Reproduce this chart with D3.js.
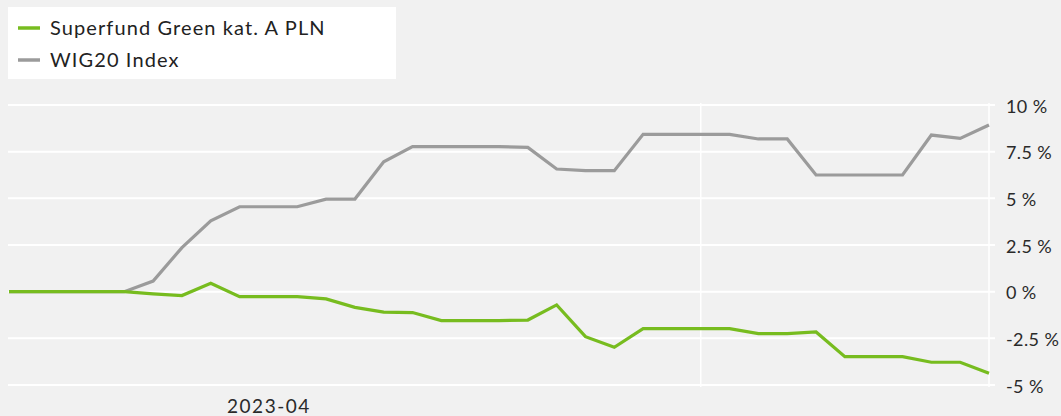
<!DOCTYPE html>
<html><head><meta charset="utf-8">
<script src="https://cdn.jsdelivr.net/npm/d3@7"></script>
<style>
html,body{margin:0;padding:0;background:#f1f1f1;}
svg{display:block;font-family:Lato,"Open Sans",sans-serif;}
</style></head>
<body><svg id="c" width="1061" height="416"></svg>
<script>
const dates = ["2023-04-07","2023-04-08","2023-04-09","2023-04-10","2023-04-11","2023-04-12","2023-04-13","2023-04-14","2023-04-15","2023-04-16","2023-04-17","2023-04-18","2023-04-19","2023-04-20","2023-04-21","2023-04-22","2023-04-23","2023-04-24","2023-04-25","2023-04-26","2023-04-27","2023-04-28","2023-04-29","2023-04-30","2023-05-01","2023-05-02","2023-05-03","2023-05-04","2023-05-05","2023-05-06","2023-05-07","2023-05-08","2023-05-09","2023-05-10","2023-05-11"];
const superfund = [0,0,0,0,0,-0.12,-0.21,0.45,-0.27,-0.27,-0.27,-0.39,-0.84,-1.10,-1.12,-1.55,-1.55,-1.55,-1.52,-0.71,-2.41,-2.98,-1.98,-1.98,-1.98,-1.98,-2.25,-2.25,-2.16,-3.48,-3.48,-3.48,-3.78,-3.78,-4.37];
const wig20 = [0,0,0,0,0,0.57,2.36,3.79,4.55,4.55,4.55,4.96,4.96,6.96,7.77,7.77,7.77,7.77,7.73,6.57,6.48,6.48,8.43,8.43,8.43,8.43,8.18,8.18,6.25,6.25,6.25,6.25,8.39,8.21,8.93];
const seriesNames = ["Superfund Green kat. A PLN","WIG20 Index"];
const seriesColors = ["#77bc1f","#9b9b9b"];
const yTicks = [-5,-2.5,0,2.5,5,7.5,10];
const yTickLabels = ["-5 %","-2.5 %","0 %","2.5 %","5 %","7.5 %","10 %"];
const xLabelTicks = [{date:"2023-04-16", label:"2023-04"}];
const xGridDates = ["2023-05-01","2023-05-11"];

const svg = d3.select("#c");
const parse = d3.timeParse("%Y-%m-%d");
const ds = dates.map(parse);
const x = d3.scaleTime().domain(d3.extent(ds)).range([9, 989]);
const y = d3.scaleLinear().domain([-5,10]).range([385,105]);

// grid
const g = svg.append("g");
g.selectAll("line.h").data(yTicks).join("line")
  .attr("x1",8).attr("x2",995).attr("y1",d=>y(d)).attr("y2",d=>y(d))
  .attr("stroke","#ffffff").attr("stroke-width",2);
g.selectAll("line.v").data(xGridDates).join("line")
  .attr("x1",d=>x(parse(d))).attr("x2",d=>x(parse(d))).attr("y1",103).attr("y2",387)
  .attr("stroke","#ffffff").attr("stroke-width",1.5);

// y labels
const yAxis = d3.axisRight(y).tickValues(yTicks).tickSize(0).tickPadding(0)
  .tickFormat((d,i)=>yTickLabels[i]);
const ya = svg.append("g").attr("transform","translate(1006,0)").call(yAxis);
ya.select(".domain").remove();
ya.selectAll("text").attr("font-size",18).attr("fill","#2a2a2a").attr("font-family","Lato,sans-serif")
  .attr("letter-spacing","0.4px").attr("dy","0.4em");

// x labels
const xAxis = d3.axisBottom(x).tickValues(xLabelTicks.map(d=>parse(d.date))).tickSize(0).tickPadding(0)
  .tickFormat((d,i)=>xLabelTicks[i].label);
const xa = svg.append("g").attr("transform","translate(0,402)").call(xAxis);
xa.select(".domain").remove();
xa.selectAll("text").attr("font-size",19).attr("fill","#2a2a2a").attr("font-family","Lato,sans-serif")
  .attr("letter-spacing","1.5px").attr("dy","0.6em");

// lines
const line = d3.line().x((d,i)=>x(ds[i])).y(d=>y(d));
[wig20, superfund].forEach((s,k)=>{
  const col = k===0 ? seriesColors[1] : seriesColors[0];
  svg.append("path").datum(s).attr("d",line).attr("fill","none")
    .attr("stroke",col).attr("stroke-width",3.2).attr("stroke-linejoin","miter");
});

// legend
const lg = svg.append("g");
lg.append("rect").attr("x",8).attr("y",7).attr("width",388).attr("height",72).attr("fill","#ffffff");
seriesNames.forEach((n,i)=>{
  const cy = 28 + i*32;
  lg.append("line").attr("x1",18).attr("x2",40).attr("y1",cy).attr("y2",cy)
    .attr("stroke",seriesColors[i]).attr("stroke-width",3.5);
  lg.append("text").attr("x",50).attr("y",cy).attr("dy","0.36em")
    .attr("font-size",20).attr("letter-spacing","1.1px").attr("fill","#222").text(n);
});
</script></body></html>
